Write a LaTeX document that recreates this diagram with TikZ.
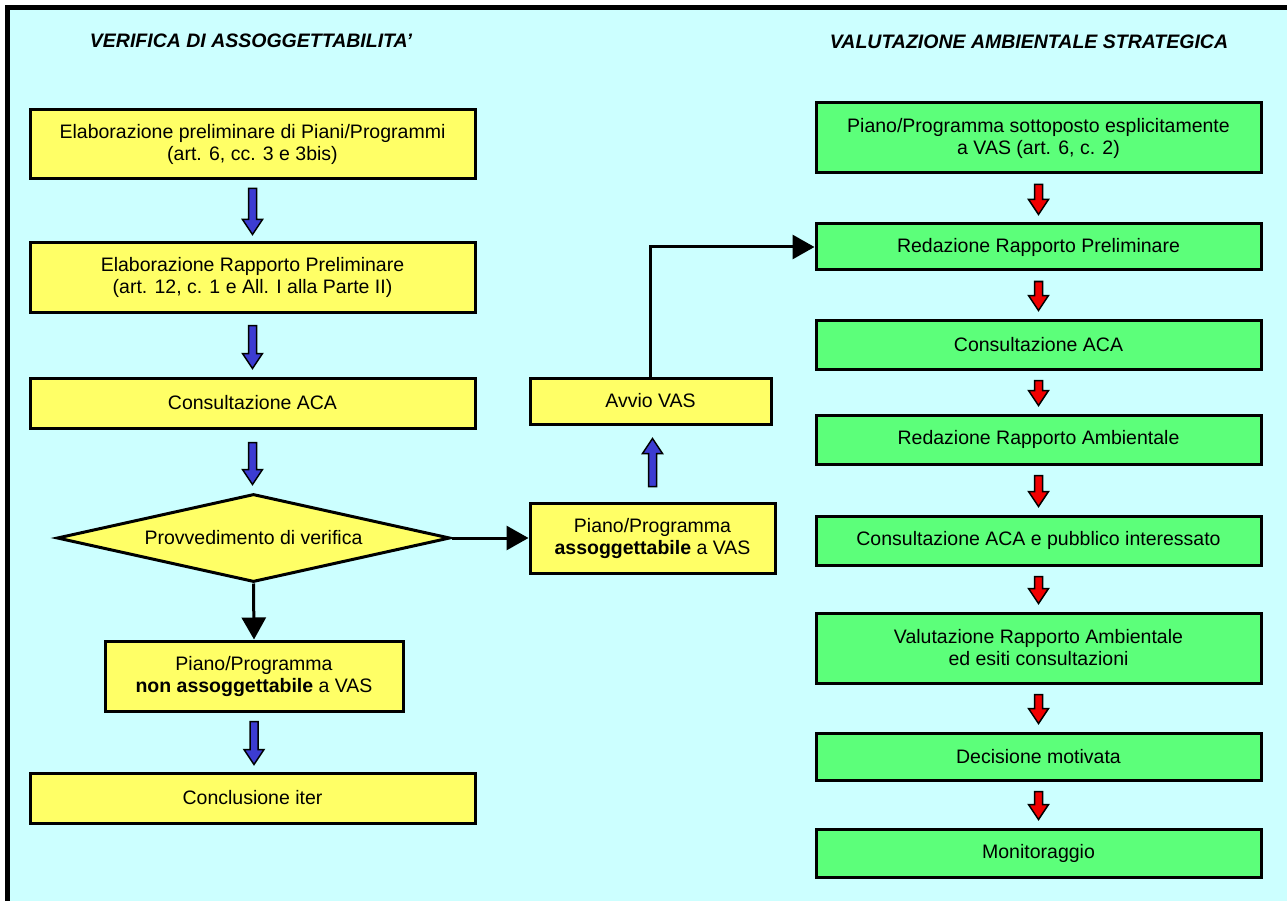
\documentclass[tikz,border=0pt]{standalone}
\usepackage{fontspec}
\setmainfont{Liberation Sans}
\usetikzlibrary{calc,arrows.meta,shapes.geometric}
\definecolor{bgcyan}{RGB}{204,255,255}
\definecolor{boxyellow}{RGB}{255,255,102}
\definecolor{boxgreen}{RGB}{92,255,122}
\definecolor{arrowblue}{RGB}{60,60,210}
\definecolor{arrowred}{RGB}{240,0,0}
\def\blockarrow#1#2#3{\draw[#1] let \p1=(#2), \p2=(#3), \n1={sign(\y2-\y1)} in (\x1-4pt,\y1) -- (\x1-4pt,{\y2-(\n1*15pt)}) -- (\x1-10pt,{\y2-(\n1*15pt)}) -- (\x1,\y2) -- (\x1+10pt,{\y2-(\n1*15pt)}) -- (\x1+4pt,{\y2-(\n1*15pt)}) -- (\x1+4pt,\y1) -- cycle;}

\begin{document}
\begin{tikzpicture}[x=1pt,y=-1pt,
		txt/.style={font=\fontsize{19.5}{22}\selectfont, align=center},
		title/.style={font=\fontsize{19.5}{22}\selectfont\bfseries\itshape},
		ybox/.style={txt, draw, line width=3pt, fill=boxyellow, minimum width=445pt, inner sep=0pt},
		gbox/.style={txt, draw, line width=3pt, fill=boxgreen, minimum width=445pt, inner sep=0pt},
		bluearr/.style={draw, line width=1.5pt, fill=arrowblue, line join=miter},
		redarr/.style={draw, line width=1.5pt, fill=arrowred, line join=miter},
		conn/.style={line width=3pt, -{Triangle[length=22pt,width=24pt]}}]
		%%%%% START %%%%%
		\useasboundingbox (0,0) rectangle (1287,901);
		\fill[white] (0,0) rectangle (1287,901);
		\fill[bgcyan] (7.5,7.5) rectangle (1287,901);
		\draw[line width=4.5pt] (7.5,901) -- (7.5,7.5) -- (1287,7.5);
		
		\node[title] (titver) at (251,41) {VERIFICA DI ASSOGGETTABILITA’};
		\node[title] (titvas) at (1029,42) {VALUTAZIONE AMBIENTALE STRATEGICA};
		
		% verifica
		\node[ybox, minimum height=69pt] (elab) at (252.5,144.5) {Elaborazione preliminare di Piani/Programmi\\(art. 6, cc. 3 e 3bis)};
		\node[ybox, minimum height=69pt] (rapprel) at (252.5,277.5) {Elaborazione Rapporto Preliminare\\(art. 12, c. 1 e All. I alla Parte II)};
		\node[ybox, minimum height=50pt] (consver) at (252.5,403) {Consultazione ACA};
		\node[txt, diamond, aspect=4.47, draw, line width=3pt, fill=boxyellow, minimum width=393pt, minimum height=88pt, inner sep=0pt] (provv) at (253.5,538) {Provvedimento di verifica};
		\node[ybox, minimum width=298pt, minimum height=70pt] (nonass) at (254,676) {Piano/Programma\\\textbf{non assoggettabile} a VAS};
		\node[ybox, minimum height=50pt] (concl) at (252.5,798) {Conclusione iter};
		
		\node[ybox, minimum width=245pt, minimum height=70pt] (ass) at (652.5,538) {Piano/Programma\\\textbf{assoggettabile} a VAS};
		\node[ybox, minimum width=241pt, minimum height=46pt] (avvio) at (650.5,401) {Avvio VAS};
		
		% vas
		\node[gbox, minimum height=70pt] (sott) at (1038.5,138) {Piano/Programma sottoposto esplicitamente\\a VAS (art. 6, c. 2)};
		\node[gbox, minimum height=46pt] (redprel) at (1038.5,247) {Redazione Rapporto Preliminare};
		\node[gbox, minimum height=49pt] (consvas) at (1038.5,344.5) {Consultazione ACA};
		\node[gbox, minimum height=49pt] (redamb) at (1038.5,439.5) {Redazione Rapporto Ambientale};
		\node[gbox, minimum height=49pt] (conspub) at (1038.5,540.5) {Consultazione ACA e pubblico interessato};
		\node[gbox, minimum height=70pt] (valamb) at (1038.5,648) {Valutazione Rapporto Ambientale\\ed esiti consultazioni};
		\node[gbox, minimum height=47pt] (dec) at (1038.5,756.5) {Decisione motivata};
		\node[gbox, minimum height=48pt] (monit) at (1038.5,853) {Monitoraggio};
		
		\blockarrow{bluearr}{$(elab.south)+(0,8)$}{$(rapprel.north)+(0,-7)$}
		\blockarrow{bluearr}{$(rapprel.south)+(0,12)$}{$(consver.north)+(0,-8)$}
		\blockarrow{bluearr}{$(consver.south)+(0,13)$}{$(provv.north)+(0,-8)$}
		\blockarrow{bluearr}{$(nonass.south)+(0,9)$}{$(concl.north)+(0,-7)$}
		\blockarrow{bluearr}{$(ass.north)+(0,-15)$}{$(avvio.south)+(0,13)$}
		
		\foreach \a/\b in {sott/redprel,redprel/consvas,consvas/redamb,redamb/conspub,conspub/valamb,valamb/dec,dec/monit}{
			\blockarrow{redarr}{$(\a.south)+(0,10)$}{$(\b.north)+(0,-8)$}
		}
		
		\draw[conn] (provv.south) -- (nonass.north);
		\draw[conn] (provv.east) -- (ass.west);
		\draw[conn] (avvio.north) |- (redprel.west);
		%%%%% END %%%%%
\end{tikzpicture}
\end{document}
